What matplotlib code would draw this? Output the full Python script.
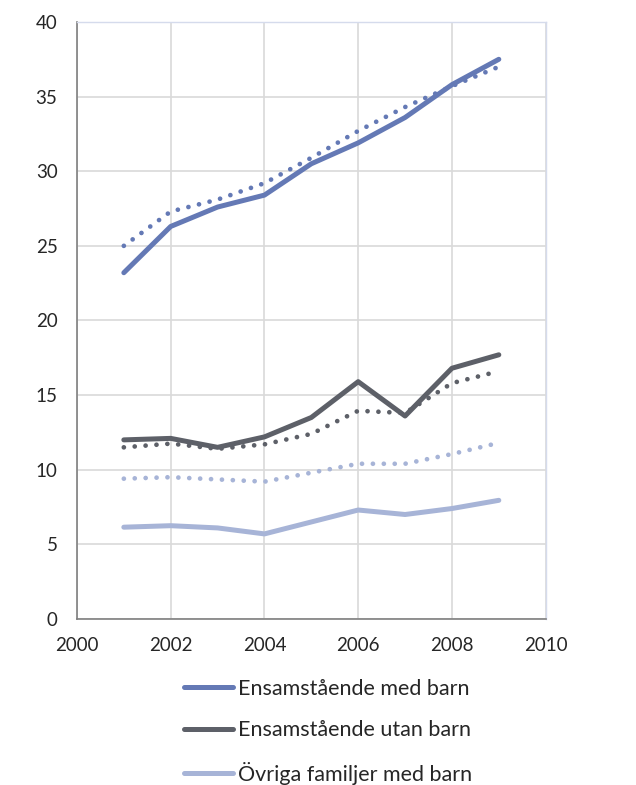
import matplotlib
matplotlib.use("Agg")
import matplotlib.pyplot as plt
from matplotlib.lines import Line2D

years = [2001, 2002, 2003, 2004, 2005, 2006, 2007, 2008, 2009]
ens_med = [23.2, 26.3, 27.6, 28.4, 30.5, 31.9, 33.6, 35.8, 37.5]
ens_med_dot = [25.0, 27.3, 28.1, 29.2, 30.9, 32.7, 34.3, 35.7, 37.0]
ens_utan = [12.0, 12.1, 11.5, 12.2, 13.5, 15.9, 13.6, 16.8, 17.7]
ens_utan_dot = [11.5, 11.75, 11.4, 11.7, 12.4, 13.95, 13.8, 15.8, 16.6]
ovr = [6.15, 6.25, 6.1, 5.7, 6.5, 7.3, 7.0, 7.4, 7.95]
ovr_dot = [9.4, 9.5, 9.35, 9.2, 9.8, 10.4, 10.4, 11.05, 11.8]
labels = ["Ensamstående med barn", "Ensamstående utan barn", "Övriga familjer med barn"]
colors = ["#6479b5", "#5d6068", "#a7b4d7"]

plt.rcParams['font.family'] = ['Lato', 'DejaVu Sans']
fig = plt.figure(figsize=(6.36, 7.85), dpi=100)
ax = fig.add_axes([0.121, 0.2115, 0.737, 0.7605])

for solid, dot, c in zip([ens_med, ens_utan, ovr], [ens_med_dot, ens_utan_dot, ovr_dot], colors):
    ax.plot(years, solid, color=c, lw=3.6, solid_capstyle='round', solid_joinstyle='round')
    ax.plot(years, dot, color=c, lw=3.4, linestyle=(0, (0.01, 2.3)), dash_capstyle='round')

ax.set_xlim(2000, 2010)
ax.set_ylim(0, 40)
ax.set_xticks(range(2000, 2011, 2))
ax.set_yticks(range(0, 41, 5))
ax.grid(True, color="#d9d9d9", lw=1.2)
ax.set_axisbelow(True)
for s in ['top', 'right']:
    ax.spines[s].set_color('#d5dbec')
    ax.spines[s].set_linewidth(1.0)
ax.spines['left'].set_color('#7f7f7f')
ax.spines['bottom'].set_color('#7f7f7f')
ax.spines['left'].set_linewidth(1.2)
ax.spines['bottom'].set_linewidth(1.2)
ax.tick_params(length=0, labelsize=13.5, colors='#262626')
ax.tick_params(axis='y', pad=14)
ax.tick_params(axis='x', pad=13)

handles = [Line2D([0], [0], color=c, lw=3.6, solid_capstyle='round') for c in colors]
fig.legend(handles, labels, loc='upper left', bbox_to_anchor=(0.272, 0.149),
           frameon=False, fontsize=15.5, handlelength=2.3, handletextpad=0.2,
           labelspacing=1.0, borderpad=0, labelcolor='#262626')

fig.savefig("out.png", dpi=100)
